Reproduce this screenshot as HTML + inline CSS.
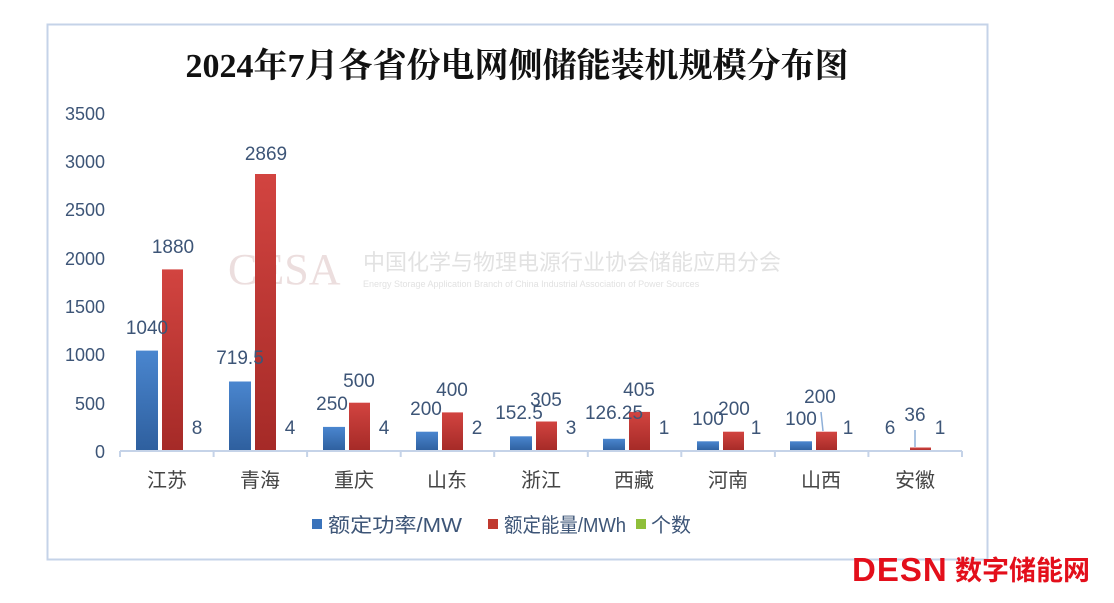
<!DOCTYPE html>
<html><head><meta charset="utf-8"><style>
body{margin:0;background:#fff;}
svg text{font-family:"Liberation Sans","Noto Sans CJK SC",sans-serif;}
</style></head><body>
<svg width="1114" height="598" viewBox="0 0 1114 598" xmlns="http://www.w3.org/2000/svg">
<defs>
<linearGradient id="gb" x1="0" y1="0" x2="0" y2="1"><stop offset="0" stop-color="#4a86cf"/><stop offset="1" stop-color="#2e5f9e"/></linearGradient>
<linearGradient id="gr" x1="0" y1="0" x2="0" y2="1"><stop offset="0" stop-color="#d24440"/><stop offset="1" stop-color="#a52a27"/></linearGradient>
</defs>
<rect x="47.5" y="24.5" width="940" height="535" fill="#fff" stroke="#c5d3e8" stroke-width="2"/>
<text x="517" y="77" text-anchor="middle" font-size="34" font-weight="bold" style="font-family:'Liberation Serif','Noto Serif CJK SC',serif" fill="#111">2024年7月各省份电网侧储能装机规模分布图</text>
<text x="228" y="284" font-size="44" style="font-family:'Liberation Serif',serif" fill="#ecdede">CESA</text>
<text x="363" y="270" font-size="22" fill="#e2e2e2">中国化学与物理电源行业协会储能应用分会</text>
<text x="363" y="287" font-size="9" fill="#e2e2e2">Energy Storage Application Branch of China Industrial Association of Power Sources</text>
<g font-size="18" fill="#3d5577" text-anchor="end">
<text x="105" y="458">0</text><text x="105" y="410">500</text><text x="105" y="361">1000</text><text x="105" y="313">1500</text><text x="105" y="265">2000</text><text x="105" y="216">2500</text><text x="105" y="168">3000</text><text x="105" y="120">3500</text>
</g>
<g>
<rect x="136" y="350.6" width="22" height="100.4" fill="url(#gb)"/><rect x="162" y="269.4" width="21" height="181.6" fill="url(#gr)"/>
<rect x="229" y="381.5" width="22" height="69.5" fill="url(#gb)"/><rect x="255" y="174" width="21" height="277" fill="url(#gr)"/>
<rect x="323" y="426.9" width="22" height="24.1" fill="url(#gb)"/><rect x="349" y="402.7" width="21" height="48.3" fill="url(#gr)"/>
<rect x="416" y="431.7" width="22" height="19.3" fill="url(#gb)"/><rect x="442" y="412.4" width="21" height="38.6" fill="url(#gr)"/>
<rect x="510" y="436.3" width="22" height="14.7" fill="url(#gb)"/><rect x="536" y="421.5" width="21" height="29.5" fill="url(#gr)"/>
<rect x="603" y="438.8" width="22" height="12.2" fill="url(#gb)"/><rect x="629" y="411.9" width="21" height="39.1" fill="url(#gr)"/>
<rect x="697" y="441.3" width="22" height="9.7" fill="url(#gb)"/><rect x="723" y="431.7" width="21" height="19.3" fill="url(#gr)"/>
<rect x="790" y="441.3" width="22" height="9.7" fill="url(#gb)"/><rect x="816" y="431.7" width="21" height="19.3" fill="url(#gr)"/>
<rect x="884" y="450.4" width="22" height="0.6" fill="url(#gb)"/><rect x="910" y="447.5" width="21" height="3.5" fill="url(#gr)"/>
</g>
<line x1="821" y1="412" x2="823" y2="431" stroke="#8fb0d8" stroke-width="1.5"/>
<line x1="915" y1="430" x2="915" y2="447" stroke="#8fb0d8" stroke-width="1.5"/>
<g stroke="#c5d3e8" stroke-width="2">
<line x1="120" y1="451" x2="962" y2="451"/>
<line x1="120" y1="451" x2="120" y2="457"/><line x1="213.6" y1="451" x2="213.6" y2="457"/><line x1="307.1" y1="451" x2="307.1" y2="457"/><line x1="400.7" y1="451" x2="400.7" y2="457"/><line x1="494.2" y1="451" x2="494.2" y2="457"/><line x1="587.8" y1="451" x2="587.8" y2="457"/><line x1="681.3" y1="451" x2="681.3" y2="457"/><line x1="774.9" y1="451" x2="774.9" y2="457"/><line x1="868.4" y1="451" x2="868.4" y2="457"/><line x1="962" y1="451" x2="962" y2="457"/>
</g>
<g font-size="19" fill="#3d5577" text-anchor="middle">
<text x="147" y="334">1040</text><text x="173" y="253">1880</text><text x="197" y="434">8</text>
<text x="240" y="364">719.5</text><text x="266" y="160">2869</text><text x="290" y="434">4</text>
<text x="332" y="410">250</text><text x="359" y="387">500</text><text x="384" y="434">4</text>
<text x="426" y="415">200</text><text x="452" y="396">400</text><text x="477" y="434">2</text>
<text x="519" y="419">152.5</text><text x="546" y="406">305</text><text x="571" y="434">3</text>
<text x="614" y="419">126.25</text><text x="639" y="396">405</text><text x="664" y="434">1</text>
<text x="708" y="425">100</text><text x="734" y="415">200</text><text x="756" y="434">1</text>
<text x="801" y="425">100</text><text x="820" y="403">200</text><text x="848" y="434">1</text>
<text x="890" y="434">6</text><text x="915" y="421">36</text><text x="940" y="434">1</text>
</g>
<g font-size="20" fill="#444" text-anchor="middle" style="font-family:'Liberation Serif','Noto Serif CJK SC',serif">
<text x="167" y="487">江苏</text><text x="260" y="487">青海</text><text x="354" y="487">重庆</text><text x="447" y="487">山东</text><text x="541" y="487">浙江</text><text x="634" y="487">西藏</text><text x="728" y="487">河南</text><text x="821" y="487">山西</text><text x="915" y="487">安徽</text>
</g>
<rect x="312" y="519" width="10" height="10" fill="#3a73bb"/>
<text x="328" y="532" font-size="20" fill="#3d5577" textLength="134" lengthAdjust="spacingAndGlyphs">额定功率/MW</text>
<rect x="488" y="519" width="10" height="10" fill="#c0392f"/>
<text x="504" y="532" font-size="20" fill="#3d5577" textLength="122" lengthAdjust="spacingAndGlyphs">额定能量/MWh</text>
<rect x="636" y="519" width="10" height="10" fill="#8fbf3a"/>
<text x="651" y="532" font-size="20" fill="#3d5577">个数</text>
<text x="852" y="581" font-size="33" font-weight="bold" fill="#e30f1b" letter-spacing="1">DESN</text>
<text x="955" y="580" font-size="27" font-weight="bold" fill="#e30f1b">数字储能网</text>
</svg>
</body></html>
